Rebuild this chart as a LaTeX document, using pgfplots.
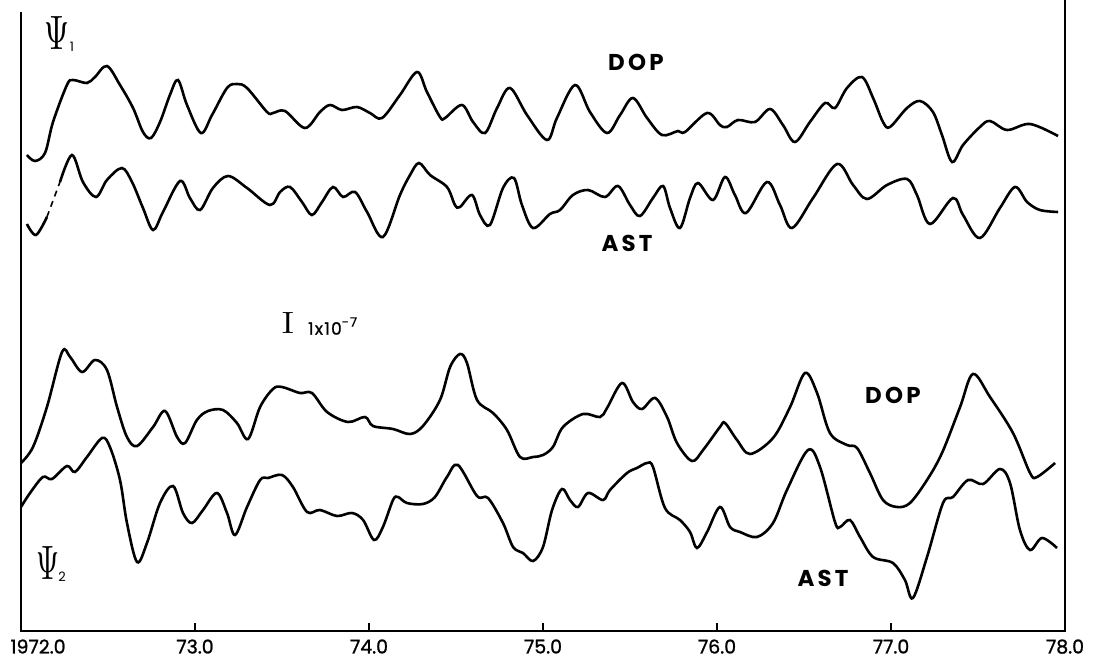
\documentclass[border=0pt]{standalone}
\usepackage[no-math]{fontspec}
\setmainfont{Poppins}
\newfontfamily\lmr{Latin Modern Roman}
\usepackage{pgfplots}
\usepackage{pgfplotstable}
\pgfplotsset{compat=1.18}

\tikzset{
  curve/.style={black, line width=2.6bp, smooth, tension=0.55, mark=none},
  lbl/.style={font=\fontsize{23}{23}\selectfont\bfseries\addfontfeatures{LetterSpace=14}},
  tck/.style={font=\fontsize{19}{19}\selectfont\addfontfeatures{FakeBold=1.2}},
}

% x in years (72 = 1972), y in arbitrary offset units
\pgfplotstableread{
x y
72.034 476
72.080 470
72.138 478
72.184 509
72.264 546
72.299 551
72.379 548
72.425 554
72.494 565
72.569 546
72.644 523
72.701 499
72.747 493
72.799 509
72.856 536
72.902 551
72.954 526
73.034 498
73.098 516
73.184 543
73.241 547
73.299 543
73.414 519
73.448 518
73.517 520
73.632 503
73.718 519
73.776 526
73.845 521
73.931 524
74.006 518
74.075 513
74.178 536
74.276 559
74.333 539
74.408 514
74.437 513
74.534 526
74.598 509
74.667 498
74.736 523
74.810 543
74.908 516
75.023 491
75.080 513
75.184 546
75.270 519
75.368 498
75.443 516
75.517 533
75.598 513
75.684 496
75.776 500
75.816 499
75.943 518
76.017 506
76.057 504
76.121 511
76.218 509
76.305 522
76.379 506
76.448 489
76.534 509
76.621 528
76.678 523
76.747 543
76.833 554
76.897 533
76.954 509
76.994 504
77.092 523
77.167 530
77.241 519
77.293 496
77.351 469
77.414 486
77.511 504
77.569 510
77.667 501
77.799 507
77.960 495
}\dopone

\pgfplotstableread{
x y
72.224 449
72.293 476
72.356 449
72.431 434
72.494 451
72.580 463
72.638 449
72.701 423
72.759 401
72.816 419
72.914 450
72.971 433
73.029 421
73.103 443
73.190 455
73.299 443
73.431 426
73.489 439
73.546 444
73.615 429
73.672 416
73.730 429
73.793 444
73.851 434
73.920 439
73.989 419
74.080 394
74.178 436
74.236 456
74.287 468
74.351 456
74.448 444
74.494 426
74.523 424
74.592 436
74.638 416
74.695 406
74.770 443
74.833 453
74.879 426
74.943 403
75.040 417
75.098 421
75.172 436
75.259 441
75.356 434
75.431 445
75.500 426
75.557 415
75.632 433
75.690 445
75.730 423
75.787 403
75.845 433
75.891 448
75.977 431
76.046 454
76.103 436
76.167 418
76.287 449
76.362 426
76.431 403
76.552 433
76.690 467
76.782 446
76.862 432
76.977 446
77.092 452
77.149 436
77.224 407
77.356 433
77.414 416
77.511 393
77.626 423
77.713 444
77.782 429
77.856 421
77.960 419
}\astone

\pgfplotstableread{
x y
72.000 168
72.069 184
72.149 224
72.236 279
72.282 274
72.351 259
72.425 271
72.494 261
72.552 224
72.609 194
72.667 185
72.759 204
72.828 220
72.897 194
72.943 188
73.011 211
73.075 220
73.161 221
73.241 208
73.305 192
73.374 224
73.448 242
73.500 244
73.603 238
73.672 238
73.759 219
73.879 209
73.977 214
74.023 205
74.138 202
74.236 197
74.310 205
74.408 231
74.466 264
74.523 277
74.563 268
74.621 231
74.713 218
74.793 201
74.868 174
74.943 174
75.000 176
75.057 184
75.115 204
75.230 217
75.328 214
75.368 223
75.454 248
75.517 229
75.569 222
75.644 233
75.713 214
75.770 188
75.856 170
75.920 181
76.017 204
76.046 208
76.115 191
76.190 177
76.322 193
76.420 224
76.506 258
76.575 238
76.649 198
76.747 186
76.805 183
76.879 158
76.954 131
77.034 124
77.109 128
77.207 151
77.293 178
77.397 224
77.471 257
77.569 234
77.701 198
77.799 158
77.839 154
77.943 168
}\doptwo

\pgfplotstableread{
x y
72.000 124
72.052 138
72.126 154
72.178 152
72.264 165
72.310 159
72.379 174
72.466 193
72.511 184
72.569 151
72.609 108
72.667 69
72.724 88
72.799 128
72.874 145
72.931 118
72.983 108
73.046 121
73.126 138
73.184 118
73.230 96
73.299 124
73.374 151
73.420 153
73.500 156
73.563 144
73.644 119
73.718 121
73.816 115
73.902 118
73.966 111
74.029 91
74.080 104
74.138 131
74.167 134
74.218 128
74.310 127
74.379 134
74.448 154
74.511 166
74.621 135
74.684 133
74.770 108
74.828 84
74.885 78
74.943 70
75.000 84
75.052 121
75.109 142
75.155 131
75.201 124
75.259 138
75.345 131
75.385 141
75.483 158
75.540 163
75.598 168
75.632 164
75.701 123
75.787 111
75.845 99
75.885 83
75.943 99
76.017 124
76.075 104
76.132 99
76.230 94
76.322 108
76.402 141
76.523 181
76.592 164
76.678 109
76.707 104
76.764 111
76.822 94
76.897 74
77.011 68
77.080 51
77.126 33
77.207 74
77.299 128
77.356 134
77.443 151
77.529 147
77.626 162
77.684 148
77.741 101
77.799 81
77.868 93
77.954 83
}\asttwo

\begin{document}
\begin{tikzpicture}
\path[use as bounding box] (-21bp,-31bp) rectangle (1077bp,631bp);
\begin{axis}[
    x=174bp, y=1bp,
    xmin=72, xmax=78, ymin=0, ymax=631,
    axis line style={draw=none},
    clip=false,
    ytick=\empty,
    xtick={73,74,75,76,77,78},
    xticklabels={73.0,74.0,75.0,76.0,77.0,78.0},
    xtick pos=bottom, xtick align=inside,
    major tick length=8bp,
    tick style={line width=2bp, black},
    xticklabel style={tck, yshift=-5bp},
]
\addplot[curve] table {\dopone};
\addplot[curve] table {\astone};
\addplot[curve] coordinates {(72.034,407) (72.086,396) (72.149,414)};
\addplot[black, line width=1.6bp, dash pattern=on 6bp off 5bp] coordinates {(72.149,414) (72.224,449)};
\addplot[curve] table {\doptwo};
\addplot[curve] table {\asttwo};

\draw[line width=2.6bp] (axis cs:72,619) -- (axis cs:72,0) -- (axis cs:78,0) -- (axis cs:78,631);

\node[anchor=north, tck, yshift=-5bp] at (axis cs:72.098,0) {1972.0};

\node[lbl] at (axis cs:75.534,569) {DOP};
\node[lbl] at (axis cs:75.483,388) {AST};
\node[lbl] at (axis cs:77.011,236) {DOP};
\node[lbl] at (axis cs:76.609,53) {AST};

\node at (axis cs:72.207,598) {\resizebox{25bp}{33bp}{$\Psi$}};
\node at (axis cs:72.293,584) {\fontsize{13}{13}\selectfont 1};
\node at (axis cs:72.155,68) {\resizebox{23bp}{33bp}{$\Psi$}};
\node at (axis cs:72.236,54) {\fontsize{13}{13}\selectfont 2};

\node at (axis cs:73.534,308) {\resizebox{12bp}{21bp}{\lmr I}};
\node[anchor=west, inner sep=0pt] at (axis cs:73.649,305) {\fontsize{17}{17}\selectfont\addfontfeatures{LetterSpace=8,FakeBold=1}1x10\raisebox{8bp}{\fontsize{13}{13}\selectfont -7}};
\end{axis}
\end{tikzpicture}
\end{document}
